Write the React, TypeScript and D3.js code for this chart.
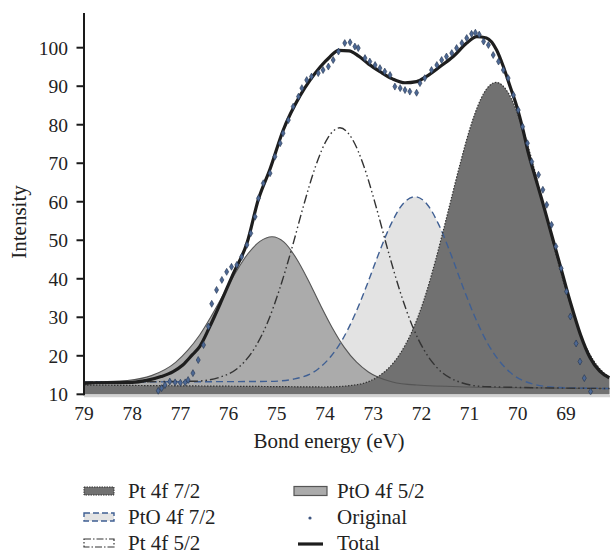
import React from "react";
import * as d3 from "d3";

// ---------- data ----------
const xTicks = [79, 78, 77, 76, 75, 74, 73, 72, 71, 70, 69];
const yTicks = [10, 20, 30, 40, 50, 60, 70, 80, 90, 100];

// Pt 4f 7/2 component
const pt72E = [79, 75, 74, 73.45, 72.95, 72.45, 72.2, 71.95, 71.7, 71.45, 71.2, 70.95, 70.7, 70.45, 70.2, 69.95, 69.7, 69.45, 69.2, 68.95, 68.7, 68.45, 68.1];
const pt72I = [12.4, 12.0, 11.9, 12.3, 14.2, 20.4, 26.2, 34.4, 45.1, 57.3, 69.7, 80.7, 88.3, 91.0, 88.3, 81.0, 70.5, 58.3, 46.0, 35.0, 25.5, 19.2, 14.3];

// PtO 4f 7/2 component
const pto72E = [79, 75.13, 74.63, 74.13, 73.88, 73.63, 73.38, 73.13, 72.88, 72.63, 72.38, 72.13, 71.88, 71.63, 71.38, 71.13, 70.88, 70.63, 70.38, 70.13, 69.63, 69.13, 68.1];
const pto72I = [13.2, 13.35, 14.0, 16.7, 19.8, 24.4, 30.7, 38.4, 46.7, 54.2, 59.5, 61.3, 59.3, 53.8, 46.1, 37.6, 29.8, 23.3, 18.6, 15.4, 12.5, 11.75, 11.5];

// Pt 4f 5/2 component
const pt52E = [79, 76.69, 76.19, 75.69, 75.44, 75.19, 74.94, 74.69, 74.44, 74.19, 73.94, 73.69, 73.44, 73.19, 72.94, 72.69, 72.44, 72.19, 71.94, 71.69, 71.19, 70.69, 68.1];
const pt52I = [13.2, 13.4, 14.4, 18.2, 22.4, 28.7, 37.4, 47.8, 59.2, 69.4, 76.6, 79.2, 76.4, 69.1, 58.7, 47.2, 36.6, 27.8, 21.4, 17.1, 13.1, 12.0, 11.5];

// PtO 4f 5/2 component
const pto52E = [79, 78.6, 78.1, 77.6, 77.1, 76.85, 76.6, 76.35, 76.1, 75.85, 75.6, 75.35, 75.1, 74.85, 74.6, 74.35, 74.1, 73.85, 73.6, 73.35, 73.1, 72.6, 72.1, 71, 70, 68.1];
const pto52I = [13.2, 13.3, 13.6, 14.85, 18.3, 21.4, 25.4, 30.5, 36.1, 41.7, 46.5, 49.7, 50.9, 49.5, 45.4, 39.7, 33.3, 27.3, 22.2, 18.4, 15.8, 13.2, 12.4, 11.9, 11.7, 11.5];

// Total fit
const totalE = [79, 78.75, 78.0, 77.7, 77.4, 77.15, 76.95, 76.75, 76.6, 76.39, 76.14, 75.9, 75.62, 75.38, 75.14, 74.87, 74.52, 74.31, 74.1, 73.9, 73.72, 73.5, 73.3, 73.1, 72.86, 72.6, 72.34, 72.1, 71.9, 71.61, 71.34, 71.06, 70.85, 70.65, 70.44, 70.3, 70.16, 70.02, 69.89, 69.78, 69.64, 69.5, 69.3, 69.1, 68.9, 68.7, 68.5, 68.3, 68.1];
const totalI = [12.8, 13.0, 13.1, 13.6, 14.6, 15.9, 17.6, 20.3, 22.4, 27.6, 34.5, 41.4, 49.2, 60.7, 68.5, 78.5, 87.5, 91.6, 95.0, 97.6, 99.3, 99.2, 97.8, 95.8, 93.8, 91.9, 90.9, 91.2, 92.5, 95.1, 97.7, 101.2, 102.9, 102.5, 99.4, 95.1, 89.9, 84.7, 78.6, 72.6, 66.5, 60.5, 51.5, 42.5, 33.5, 25.5, 19.5, 16.0, 14.3];

// Original measured points
const origE = [77.46, 77.39, 77.32, 77.22, 77.11, 77.0, 76.9, 76.84, 76.74, 76.63, 76.52, 76.42, 76.35, 76.25, 76.14, 76.04, 75.94, 75.83, 75.73, 75.62, 75.54, 75.45, 75.38, 75.28, 75.14, 75.04, 74.93, 74.87, 74.76, 74.66, 74.55, 74.48, 74.38, 74.28, 74.14, 74.04, 73.93, 73.83, 73.72, 73.59, 73.48, 73.38, 73.31, 73.17, 73.07, 72.96, 72.86, 72.76, 72.65, 72.55, 72.44, 72.34, 72.24, 72.1, 72.03, 71.93, 71.79, 71.68, 71.58, 71.48, 71.37, 71.27, 71.16, 71.06, 70.96, 70.88, 70.8, 70.71, 70.61, 70.51, 70.4, 70.3, 70.2, 70.09, 69.99, 69.9, 69.8, 69.71, 69.57, 69.48, 69.4, 69.3, 69.21, 69.1, 68.99, 68.91, 68.79, 68.71, 68.62, 68.49];
const origI = [10.9, 11.6, 12.4, 13.3, 13.1, 13.0, 13.1, 13.7, 15.5, 18.9, 22.8, 27.6, 33.5, 37.1, 39.7, 41.8, 43.1, 43.6, 45.7, 48.8, 51.8, 56.1, 60.9, 64.8, 67.4, 71.7, 75.2, 77.8, 81.2, 84.7, 87.3, 89.5, 91.6, 92.5, 93.4, 94.2, 95.1, 96.8, 99.0, 101.2, 101.4, 100.3, 99.9, 97.3, 96.4, 95.5, 94.7, 93.8, 92.9, 89.9, 89.5, 89.0, 88.6, 88.3, 90.8, 92.1, 94.2, 95.5, 96.8, 97.7, 98.6, 99.9, 101.2, 102.5, 103.6, 103.9, 103.4, 101.6, 100.7, 98.1, 96.4, 94.2, 92.1, 87.7, 83.8, 79.5, 75.2, 70.4, 67.0, 63.1, 59.2, 54.0, 48.4, 42.7, 36.7, 30.2, 23.2, 18.5, 14.2, 10.7];

const legendLeft = ["Pt 4f 7/2", "PtO 4f 7/2", "Pt 4f 5/2"];
const legendRight = ["PtO 4f 5/2", "Original", "Total"];

// ---------- styles ----------
const FONT = "Liberation Serif, DejaVu Serif, serif";
const DARK = "#717171";
const MED = "#ababab";
const LIGHT = "#e3e3e3";
const BLUE = "#3f5f93";
const FS_TICK = 19.5;
const FS_TEXT = 21;

export default function App() {
  const x = d3.scaleLinear().domain([79, 68.1]).range([84, 84 + 48.2 * 10.9]);
  const y = d3.scaleLinear().domain([10, 100]).range([394.3, 47.7]);

  const zip = (es: number[], is: number[]) => es.map((e, i) => [e, is[i]] as [number, number]);

  const area = d3
    .area<[number, number]>()
    .x((d) => x(d[0]))
    .y0(y(10))
    .y1((d) => y(d[1]))
    .curve(d3.curveMonotoneX);
  const line = d3
    .line<[number, number]>()
    .x((d) => x(d[0]))
    .y((d) => y(d[1]))
    .curve(d3.curveMonotoneX);

  const pt72 = zip(pt72E, pt72I);
  const pto72 = zip(pto72E, pto72I);
  const pt52 = zip(pt52E, pt52I);
  const pto52 = zip(pto52E, pto52I);
  const total = zip(totalE, totalI);
  const orig = zip(origE, origI);

  const diamond = d3.symbol().type(d3.symbolDiamond).size(14)() as string;

  const legendRowsY = [491, 517, 543];
  const tick = { fontFamily: FONT, fontSize: FS_TICK, fill: "#222" } as React.CSSProperties;
  const txt = { fontFamily: FONT, fontSize: FS_TEXT, fill: "#222" } as React.CSSProperties;

  return (
    <svg
      width={610}
      height={554}
      style={{ position: "absolute", left: 0, top: 0, background: "#fff", fontFamily: FONT }}
    >
      <defs>
        <clipPath id="plot">
          <rect x={84} y={0} width={526} height={395} />
        </clipPath>
      </defs>

      <g clipPath="url(#plot)">
        {/* fills */}
        <path d={area(pto72) as string} fill={LIGHT} />
        <path d={area(pto52) as string} fill={MED} />
        <path d={area(pt72) as string} fill={DARK} />

        {/* outlines */}
        <path d={line(pto52) as string} fill="none" stroke="#555" strokeWidth={1.1} />
        <path d={line(pto72) as string} fill="none" stroke={BLUE} strokeWidth={1.4} strokeDasharray="7 4" />
        <path
          d={line(pt52) as string}
          fill="none"
          stroke="#333"
          strokeWidth={1.4}
          strokeDasharray="9 3 1.5 3 1.5 3"
        />
        <path d={line(pt72) as string} fill="none" stroke="#333" strokeWidth={1.2} strokeDasharray="1.5 1.5" />

        {/* total */}
        <path d={line(total) as string} fill="none" stroke="#1e1e1e" strokeWidth={3.2} strokeLinejoin="round" />

        {/* original points */}
        {orig.map((d, i) => (
          <path
            key={i}
            d={diamond}
            transform={`translate(${x(d[0])},${y(d[1])})`}
            fill="#4d6894"
            stroke="#24344f"
            strokeWidth={0.6}
          />
        ))}
      </g>

      {/* x axis line */}
      <line x1={84} x2={610} y1={396} y2={396} stroke="#d2d2d2" strokeWidth={2.5} />

      {/* y axis */}
      <line x1={84} x2={84} y1={13} y2={395.3} stroke="#1a1a1a" strokeWidth={2} />
      {yTicks.map((t) => (
        <g key={t}>
          <line x1={76.5} x2={84} y1={y(t)} y2={y(t)} stroke="#1a1a1a" strokeWidth={2} />
          <text x={68} y={y(t)} dy="0.35em" textAnchor="end" style={tick}>
            {t}
          </text>
        </g>
      ))}
      {xTicks.map((t) => (
        <text key={t} x={x(t)} y={420} textAnchor="middle" style={tick}>
          {t}
        </text>
      ))}

      {/* axis titles */}
      <text transform="translate(26,222) rotate(-90)" textAnchor="middle" style={txt}>
        Intensity
      </text>
      <text x={329} y={448} textAnchor="middle" style={txt}>
        Bond energy (eV)
      </text>

      {/* legend left column */}
      <rect x={84} y={legendRowsY[0] - 4} width={30} height={8} fill={DARK} stroke="#333" strokeWidth={1} strokeDasharray="1.5 1" />
      <rect x={84} y={legendRowsY[1] - 4} width={30} height={8} fill={LIGHT} stroke={BLUE} strokeWidth={1.4} strokeDasharray="6 3" />
      <rect x={84} y={legendRowsY[2] - 4} width={30} height={8} fill="#fff" stroke="#333" strokeWidth={1.2} strokeDasharray="7 2 1.5 2" />
      {legendLeft.map((s, i) => (
        <text key={s} x={128} y={legendRowsY[i]} dy="0.35em" style={txt}>
          {s}
        </text>
      ))}

      {/* legend right column */}
      <rect x={294} y={legendRowsY[0] - 4.5} width={33} height={9} fill={MED} stroke="#555" strokeWidth={1.2} />
      <circle cx={310} cy={legendRowsY[1] + 1} r={1.6} fill="#3d5580" />
      <line x1={298} x2={323} y1={legendRowsY[2] + 1} y2={legendRowsY[2] + 1} stroke="#1e1e1e" strokeWidth={3.2} />
      {legendRight.map((s, i) => (
        <text key={s} x={337} y={legendRowsY[i]} dy="0.35em" style={txt}>
          {s}
        </text>
      ))}
    </svg>
  );
}
